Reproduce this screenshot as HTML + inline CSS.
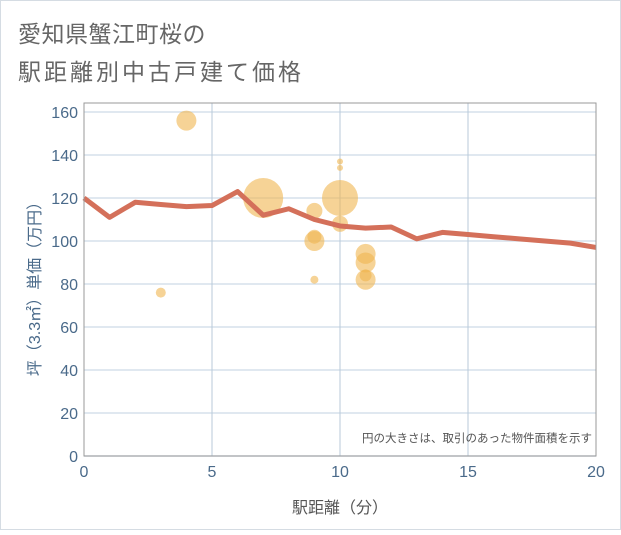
<!DOCTYPE html>
<html><head><meta charset="utf-8"><style>
body{margin:0;background:#fff;}
svg text{font-family:"Liberation Sans","Noto Sans CJK JP",sans-serif;}
</style></head><body>
<svg width="621" height="530">
<rect x="0.5" y="0.5" width="620" height="529" fill="#fff" stroke="#d5dce3"/>
<text x="18" y="42" font-size="23" letter-spacing="0.5" fill="#666">愛知県蟹江町桜の</text>
<text x="18" y="80" font-size="23" letter-spacing="3" fill="#666">駅距離別中古戸建て価格</text>
<g id="grid"></g>
<g id="bubbles"></g>
<g id="line"></g>
<g id="axes"></g>
<text x="592" y="442" font-size="11.5" fill="#555" text-anchor="end">円の大きさは、取引のあった物件面積を示す</text>
<text x="340" y="513" font-size="16" fill="#555" text-anchor="middle">駅距離（分）</text>
<text transform="translate(40,285) rotate(-90)" font-size="16" fill="#4a6a8a" text-anchor="middle">坪（3.3㎡）単価（万円）</text>
</svg>
<script>
const xTicks=[0,5,10,15,20];
const yTicks=[0,20,40,60,80,100,120,140,160];
const lineX=[0,1,2,3,4,5,6,7,8,9,10,11,12,13,14,15,16,17,18,19,20];
const lineY=[120,111,118,117,116,116.5,123,112,115,110,107,106,106.5,101,104,103,102,101,100,99,97];
const bubX=[4,3,7,9,9,9,9,10,10,10,10,11,11,11,11];
const bubY=[156,76,120,114,100,102,82,137,134,120,108,94,90,84,82];
const bubR=[10,5,20,8,10,7,4,3,3,18,8,10,10,6,10];
const NS="http://www.w3.org/2000/svg";
const L=84,R=596,T=103,B=456;
const sx=v=>L+(v-0)/20*(R-L);
const sy=v=>B-v/160*(B-112);
function mk(p,t,a){const e=document.createElementNS(NS,t);for(const k in a)e.setAttribute(k,a[k]);p.appendChild(e);return e;}
const g=document.getElementById('grid');
for(const v of yTicks){const l=mk(g,'line',{x1:L,x2:R,y1:sy(v),y2:sy(v),stroke:'#d5e1ec','stroke-width':1.5});

}
for(const v of xTicks){const l=mk(g,'line',{x1:sx(v),x2:sx(v),y1:T,y2:B,stroke:'#b8c9da','stroke-width':1});

}
const bg=document.getElementById('bubbles');
for(let i=0;i<bubX.length;i++){const c=mk(bg,'circle',{cx:sx(bubX[i]),cy:sy(bubY[i]),r:bubR[i],fill:'#f0b550','fill-opacity':0.6});

}
const lg=document.getElementById('line');
const p=mk(lg,'polyline',{points:lineX.map((x,i)=>sx(x)+','+sy(lineY[i])).join(' '),fill:'none',stroke:'#d4705a','stroke-width':5,'stroke-linejoin':'round'});


const ax=document.getElementById('axes');
const f=mk(ax,'rect',{x:L,y:T,width:R-L,height:B-T,fill:'none',stroke:'#999','stroke-width':1});


for(const v of yTicks){const t=mk(ax,'text',{x:L-6,y:sy(v)+6,'font-size':16,fill:'#4a6a8a','text-anchor':'end'});t.textContent=v;

}
for(const v of xTicks){const t=mk(ax,'text',{x:sx(v),y:B+21,'font-size':16,fill:'#4a6a8a','text-anchor':'middle'});t.textContent=v;

}
</script>
</body></html>
